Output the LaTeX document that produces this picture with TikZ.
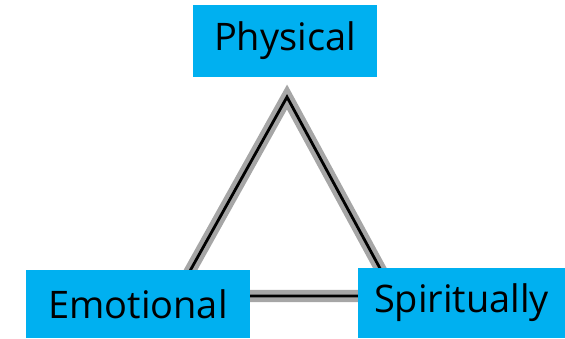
\documentclass[tikz,border=0pt]{standalone}
\usepackage{fontspec}
\setmainfont{Open Sans}
\usetikzlibrary{positioning}
\definecolor{boxblue}{RGB}{0,176,240}
\tikzset{
  corner/.style={fill=boxblue, inner sep=0pt, font=\fontsize{27}{30}\selectfont},
  edgeshade/.style={line width=0.3cm, color=black!35, line join=miter},
  edgeline/.style={line width=0.07cm, color=black, line join=miter}
}

\begin{document}
\begin{tikzpicture}[x=0.025cm, y=-0.025cm]
		%%%%% START %%%%%
		
		\useasboundingbox (0, 0) rectangle (565, 339);
		
		\coordinate (top) at (287, 97);
		\coordinate (bl) at (176, 296);
		\coordinate (br) at (395, 296);
		
		\draw[edgeshade] (top) -- (bl) -- (br) -- cycle;
		\draw[edgeline] (top) -- (bl) -- (br) -- cycle;
		
		\node[corner, minimum width=4.6cm, minimum height=1.8cm] (phys) at (285, 41) {Physical};
		\node[corner, minimum width=5.6cm, minimum height=1.7cm] (emo) at (138, 304) {Emotional};
		\node[corner, minimum width=5.175cm, minimum height=1.75cm] (spir) at (461.5, 303) {Spiritually};
		
		%%%%% END %%%%%
	\end{tikzpicture}
\end{document}
